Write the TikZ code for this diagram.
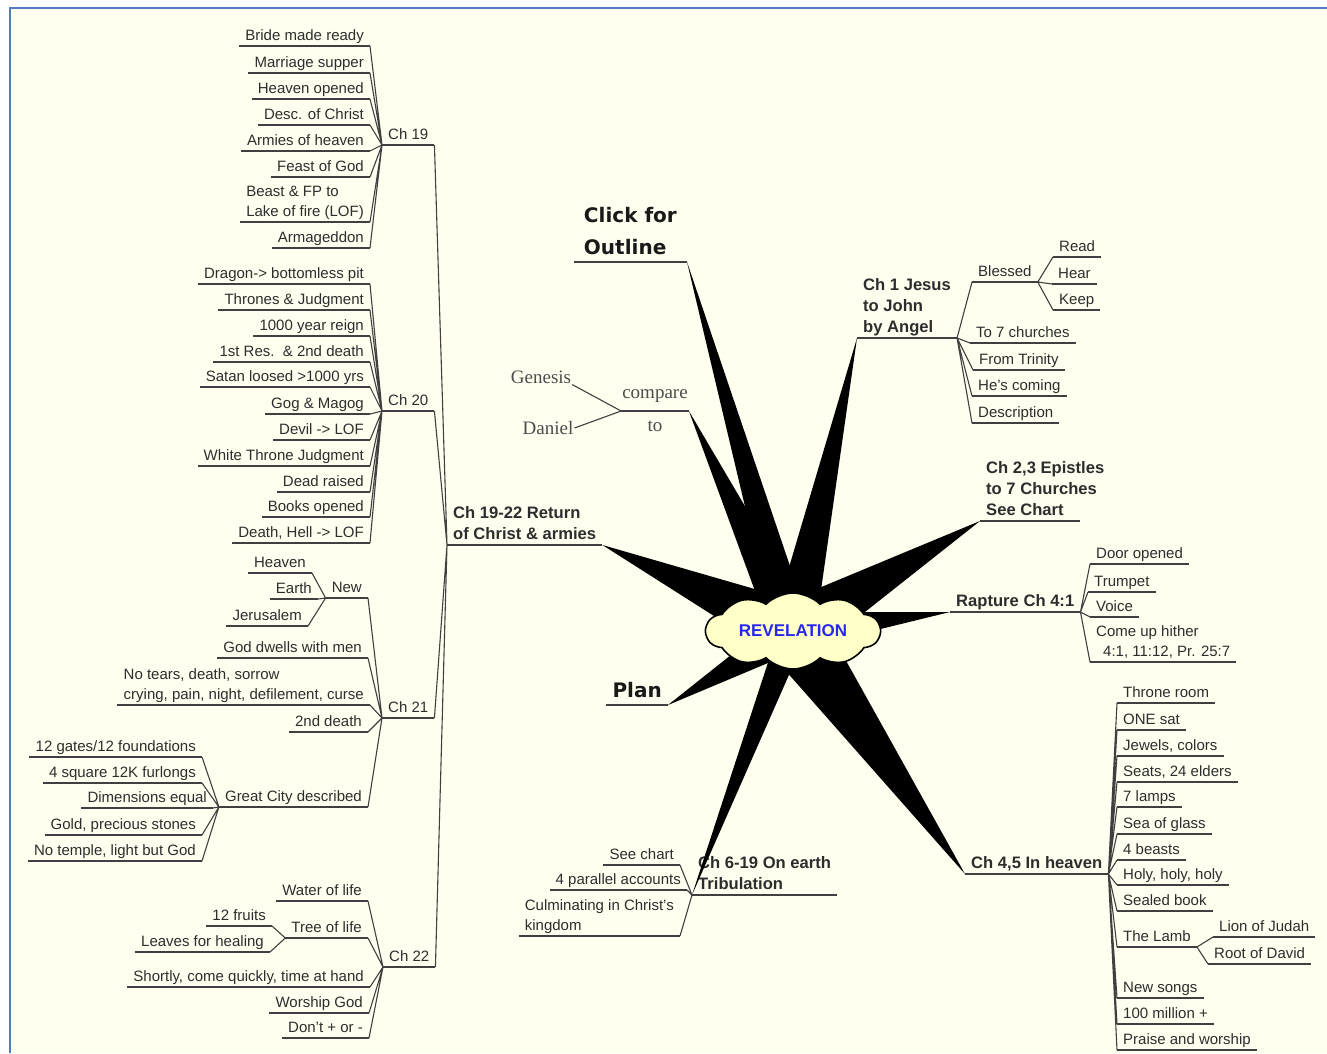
\documentclass[tikz,border=0pt]{standalone}
\usepackage{fontspec}
\setmainfont{Liberation Sans}
\newfontfamily\verdfont{DejaVu Sans}
\newfontfamily\timesfont{Liberation Serif}
\usetikzlibrary{shapes.symbols,calc}
\definecolor{paper}{RGB}{255,255,240}
\definecolor{frameblue}{RGB}{80,125,195}
\definecolor{inkgray}{RGB}{45,45,45}
\definecolor{revblue}{RGB}{40,40,235}
\definecolor{cloudfill}{RGB}{255,255,200}
\newcommand{\narrow}[1]{\makebox[88pt][l]{#1}}
\tikzset{
  uline/.style={draw=black!75, line width=1.3pt},
  under/.style={append after command={(\tikzlastnode.south west) edge[uline] (\tikzlastnode.south east)}},
  leaf/.style={under, text=inkgray, font=\fontsize{15}{20}\selectfont, inner xsep=6pt, inner ysep=2pt, text height=11pt, text depth=3pt, align=left},
  chap/.style={leaf, font=\bfseries\fontsize{16.6}{21}\selectfont},
  big/.style={under, text=black!90, font=\verdfont\bfseries\fontsize{20}{32}\selectfont, inner xsep=6pt, inner ysep=7pt, align=left},
  old/.style={text=inkgray!85, font=\timesfont\fontsize{19}{33}\selectfont, inner sep=1pt, align=center},
  conn/.style={draw=black!75, line width=1.1pt}
}
\begin{document}
\begin{tikzpicture}[x=1pt,y=-1pt]
\useasboundingbox (0,0) rectangle (1327,1053);
%paper and frame
    \fill[paper] (10,8) rectangle (1327,1053);
    \draw[frameblue, line width=1.5pt] (10,1053) -- (10,8) -- (1327,8);
%Ch 19
    \node[leaf, anchor=south east] (bride) at (370,46) {Bride made ready};
    \node[leaf, anchor=south east] (supper) at (370,73) {Marriage supper};
    \node[leaf, anchor=south east] (opened) at (370,99) {Heaven opened};
    \node[leaf, anchor=south east] (desc) at (370,125) {Desc. of Christ};
    \node[leaf, anchor=south east] (armies) at (370,151) {Armies of heaven};
    \node[leaf, anchor=south east] (feast) at (370,177) {Feast of God};
    \node[leaf, anchor=south east] (beast) at (370,222) {Beast \& FP to\\Lake of fire (LOF)};
    \node[leaf, anchor=south east] (armag) at (370,248) {Armageddon};
    \node[leaf, anchor=south west] (ch19) at (382,145) {Ch 19};
%Ch 20
    \node[leaf, anchor=south east] (dragon) at (370,284) {Dragon-> bottomless pit};
    \node[leaf, anchor=south east] (thrones) at (370,310) {Thrones \& Judgment};
    \node[leaf, anchor=south east] (reign) at (370,336) {1000 year reign};
    \node[leaf, anchor=south east] (firstres) at (370,362) {1st Res.\ \ \& 2nd death};
    \node[leaf, anchor=south east] (satan) at (370,387) {Satan loosed >1000 yrs};
    \node[leaf, anchor=south east] (gog) at (370,414) {Gog \& Magog};
    \node[leaf, anchor=south east] (devil) at (370,440) {Devil -> LOF};
    \node[leaf, anchor=south east] (white) at (370,466) {White Throne Judgment};
    \node[leaf, anchor=south east] (dead) at (370,492) {Dead raised};
    \node[leaf, anchor=south east] (books) at (370,517) {Books opened};
    \node[leaf, anchor=south east] (hell) at (370,543) {Death, Hell -> LOF};
    \node[leaf, anchor=south west] (ch20) at (382,411) {Ch 20};
%Ch 21
    \node[leaf, anchor=south east] (heaven) at (312,573) {Heaven};
    \node[leaf, anchor=south east] (earth) at (318,599) {Earth};
    \node[leaf, anchor=south east] (jerus) at (308,626) {Jerusalem};
    \node[leaf, anchor=south east] (new) at (368,598) {New};
    \node[leaf, anchor=south east] (dwells) at (368,658) {God dwells with men};
    \node[leaf, anchor=south east] (tears) at (370,705) {No tears, death, sorrow\\crying, pain, night, defilement, curse};
    \node[leaf, anchor=south east] (second) at (368,732) {2nd death};
    \node[leaf, anchor=south east] (city) at (368,807) {Great City described};
    \node[leaf, anchor=south east] (gates) at (202,757) {12 gates/12 foundations};
    \node[leaf, anchor=south east] (square) at (202,783) {4 square 12K furlongs};
    \node[leaf, anchor=south east] (dims) at (213,808) {Dimensions equal};
    \node[leaf, anchor=south east] (gold) at (202,835) {Gold, precious stones};
    \node[leaf, anchor=south east] (temple) at (202,861) {No temple, light but God};
    \node[leaf, anchor=south west] (ch21) at (382,718) {Ch 21};
%Ch 22
    \node[leaf, anchor=south east] (water) at (368,901) {Water of life};
    \node[leaf, anchor=south east] (tree) at (368,938) {Tree of life};
    \node[leaf, anchor=south east] (fruits) at (272,926) {12 fruits};
    \node[leaf, anchor=south east] (leaves) at (270,952) {Leaves for healing};
    \node[leaf, anchor=south east] (shortly) at (370,987) {Shortly, come quickly, time at hand};
    \node[leaf, anchor=south east] (worship) at (369,1013) {Worship God};
    \node[leaf, anchor=south east] (dont) at (369,1038) {Don't + or -};
    \node[leaf, anchor=south west] (ch22) at (383,967) {Ch 22};
%return of Christ
    \node[chap, anchor=south west] (ret) at (447,545) {Ch 19-22 Return\\of Christ \& armies};
%Ch 1
    \node[chap, anchor=south west] (ch1) at (857,338) {Ch 1 Jesus\\to John\\by Angel};
    \node[leaf, anchor=south west] (blessed) at (972,282) {Blessed};
    \node[leaf, anchor=south west] (read) at (1053,257) {Read};
    \node[leaf, anchor=south west] (hear) at (1052,284) {Hear};
    \node[leaf, anchor=south west] (keep) at (1053,310) {Keep};
    \node[leaf, anchor=south west] (churches) at (970,343) {To 7 churches};
    \node[leaf, anchor=south west] (trinity) at (973,370) {From Trinity};
    \node[leaf, anchor=south west] (coming) at (972,396) {He's coming};
    \node[leaf, anchor=south west] (descr) at (972,423) {Description};
%Ch 2,3 and rapture
    \node[chap, anchor=south west] (ch23) at (980,521)
         {\narrow{Ch 2,3 Epistles}\\\narrow{to 7 Churches}\\\narrow{See Chart}};
    \node[chap, anchor=south west] (rapture) at (950,612) {Rapture Ch 4:1};
    \node[leaf, anchor=south west] (door) at (1090,564) {Door opened};
    \node[leaf, anchor=south west] (trumpet) at (1088,592) {Trumpet};
    \node[leaf, anchor=south west] (voice) at (1090,617) {Voice};
    \node[leaf, anchor=south west] (hither) at (1090,662) {Come up hither\\\hspace*{7pt}4:1, 11:12, Pr. 25:7};
%Ch 4,5
    \node[chap, anchor=south west] (ch45) at (965,874) {Ch 4,5 In heaven};
    \node[leaf, anchor=south west] (throne) at (1117,703) {Throne room};
    \node[leaf, anchor=south west] (onesat) at (1117,730) {ONE sat};
    \node[leaf, anchor=south west] (jewels) at (1117,756) {Jewels, colors};
    \node[leaf, anchor=south west] (seats) at (1117,782) {Seats, 24 elders};
    \node[leaf, anchor=south west] (lamps) at (1117,807) {7 lamps};
    \node[leaf, anchor=south west] (glass) at (1117,834) {Sea of glass};
    \node[leaf, anchor=south west] (beasts) at (1117,860) {4 beasts};
    \node[leaf, anchor=south west] (holy) at (1117,885) {Holy, holy, holy};
    \node[leaf, anchor=south west] (sealed) at (1117,911) {Sealed book};
    \node[leaf, anchor=south west] (lamb) at (1117,947) {The Lamb};
    \node[leaf, anchor=south west] (lion) at (1213,937) {Lion of Judah};
    \node[leaf, anchor=south west] (root) at (1208,964) {Root of David};
    \node[leaf, anchor=south west] (songs) at (1117,998) {New songs};
    \node[leaf, anchor=south west] (million) at (1117,1024) {100 million +};
    \node[leaf, anchor=south west] (praise) at (1117,1050) {Praise and worship};
%Ch 6-19
    \node[chap, anchor=south west] (ch619) at (692,895) {Ch 6-19 On earth\\Tribulation\hspace*{14pt}};
    \node[leaf, anchor=south east] (seechart) at (680,865) {See chart};
    \node[leaf, anchor=south east] (parallel) at (687,890) {4 parallel accounts};
    \node[leaf, anchor=south east] (culm) at (680,936) {Culminating in Christ's\\kingdom};
%outline, plan, compare
    \node[big, anchor=south east, inner xsep=10pt] (click) at (687,262) {Click for\\Outline};
    \node[big, anchor=south east] (plan) at (668,705) {Plan};
    \node[old] (cmp) at (655,411) {compare\\to};
    \draw[uline] (cmp.west) -- (cmp.east);
    \node[old] (genesis) at (541,377) {Genesis};
    \node[old] (daniel) at (548,428) {Daniel};
%connectors, left side
    \begin{scope}[every path/.style={conn}]
       \draw (ch19.south west) -- (bride.south east) (ch19.south west) -- (supper.south east)
             (ch19.south west) -- (opened.south east) (ch19.south west) -- (desc.south east)
             (ch19.south west) -- (armies.south east) (ch19.south west) -- (feast.south east)
             (ch19.south west) -- (beast.south east) (ch19.south west) -- (armag.south east);
       \draw (ch20.south west) -- (dragon.south east) (ch20.south west) -- (thrones.south east)
             (ch20.south west) -- (reign.south east) (ch20.south west) -- (firstres.south east)
             (ch20.south west) -- (satan.south east) (ch20.south west) -- (gog.south east)
             (ch20.south west) -- (devil.south east) (ch20.south west) -- (white.south east)
             (ch20.south west) -- (dead.south east) (ch20.south west) -- (books.south east)
             (ch20.south west) -- (hell.south east);
       \draw (new.south west) -- (heaven.south east) (new.south west) -- (earth.south east)
             (new.south west) -- (jerus.south east);
       \draw (city.south west) -- (gates.south east) (city.south west) -- (square.south east)
             (city.south west) -- (dims.south east) (city.south west) -- (gold.south east)
             (city.south west) -- (temple.south east);
       \draw (ch21.south west) -- (new.south east) (ch21.south west) -- (dwells.south east)
             (ch21.south west) -- (tears.south east) (ch21.south west) -- (second.south east)
             (ch21.south west) -- (city.south east);
       \draw (tree.south west) -- (fruits.south east) (tree.south west) -- (leaves.south east);
       \draw (ch22.south west) -- (water.south east) (ch22.south west) -- (tree.south east)
             (ch22.south west) -- (shortly.south east) (ch22.south west) -- (worship.south east)
             (ch22.south west) -- (dont.south east);
       \draw (ret.south west) -- (ch19.south east) (ret.south west) -- (ch20.south east)
             (ret.south west) -- (ch21.south east) (ret.south west) -- (ch22.south east);
       \draw (ch619.south west) -- (seechart.south east) (ch619.south west) -- (parallel.south east)
             (ch619.south west) -- (culm.south east);
       \draw (genesis.south east) -- (cmp.west) (daniel.east) -- (cmp.west);
%connectors, right side
       \draw (blessed.south east) -- (read.south west) (blessed.south east) -- (hear.south west)
             (blessed.south east) -- (keep.south west);
       \draw (ch1.south east) -- (blessed.south west) (ch1.south east) -- (churches.south west)
             (ch1.south east) -- (trinity.south west) (ch1.south east) -- (coming.south west)
             (ch1.south east) -- (descr.south west);
       \draw (rapture.south east) -- (door.south west) (rapture.south east) -- (trumpet.south west)
             (rapture.south east) -- (voice.south west) (rapture.south east) -- (hither.south west);
       \draw (lamb.south east) -- (lion.south west) (lamb.south east) -- (root.south west);
       \draw (ch45.south east) -- (throne.south west) (ch45.south east) -- (onesat.south west)
             (ch45.south east) -- (jewels.south west) (ch45.south east) -- (seats.south west)
             (ch45.south east) -- (lamps.south west) (ch45.south east) -- (glass.south west)
             (ch45.south east) -- (beasts.south west) (ch45.south east) -- (holy.south west)
             (ch45.south east) -- (sealed.south west) (ch45.south east) -- (lamb.south west)
             (ch45.south east) -- (songs.south west) (ch45.south east) -- (million.south west)
             (ch45.south east) -- (praise.south west);
    \end{scope}
%black spikes to the centre
    \coordinate (c) at (793,631);
    \fill (click.south east) -- ($(c)!18pt!90:(click.south east)$) -- ($(c)!18pt!-90:(click.south east)$) -- cycle;
    \fill (cmp.east) -- ($(c)!22pt!90:(cmp.east)$) -- ($(c)!22pt!-90:(cmp.east)$) -- cycle;
    \fill (ch1.south west) -- ($(c)!22pt!90:(ch1.south west)$) -- ($(c)!22pt!-90:(ch1.south west)$) -- cycle;
    \fill (ch23.south west) -- ($(c)!30pt!90:(ch23.south west)$) -- ($(c)!30pt!-90:(ch23.south west)$) -- cycle;
    \fill (rapture.south west) -- ($(c)!19pt!90:(rapture.south west)$) -- ($(c)!19pt!-90:(rapture.south west)$) -- cycle;
    \fill (ch45.south west) -- ($(c)!32pt!90:(ch45.south west)$) -- ($(c)!32pt!-90:(ch45.south west)$) -- cycle;
    \fill (ch619.south west) -- ($(c)!14pt!90:(ch619.south west)$) -- ($(c)!14pt!-90:(ch619.south west)$) -- cycle;
    \fill (plan.south east) -- ($(c)!20pt!90:(plan.south east)$) -- ($(c)!20pt!-90:(plan.south east)$) -- cycle;
    \fill (ret.south east) -- ($(c)!30pt!90:(ret.south east)$) -- ($(c)!30pt!-90:(ret.south east)$) -- cycle;
%centre cloud
    \node[cloud, draw=black, line width=1.6pt, fill=cloudfill, cloud puffs=10, cloud puff arc=90,
          cloud ignores aspect, minimum width=174pt, minimum height=76pt, inner sep=0pt,
          text=revblue, font=\bfseries\fontsize{17}{20}\selectfont] (rev) at (c) {REVELATION};
\end{tikzpicture}
\end{document}
